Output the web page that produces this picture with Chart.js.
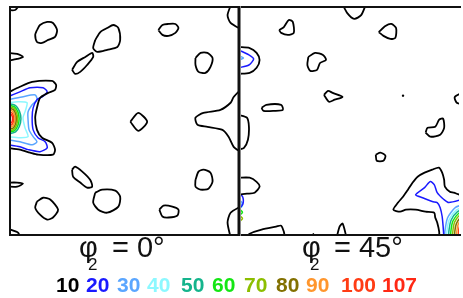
<!DOCTYPE html>
<html lang="en">
<head>
<meta charset="UTF-8">
<title>ODF sections</title>
<script src="https://cdn.jsdelivr.net/npm/chart.js"></script>
<style>
  body { margin: 0; background: #fff; font-family: Arial, "Liberation Sans", sans-serif; }
  #wrap { position: relative; width: 463px; height: 298px; overflow: hidden; }
  canvas { position: absolute; top: 0; }
  #c0 { left: 0; }
  #c45 { left: 237px; }
  .t { position: absolute; line-height: 1; color: #111; white-space: nowrap; }
  .big { font-size: 29px; }
  .sub { font-size: 17px; }
  .lv { position: absolute; top: 274px; font-size: 21px; font-weight: bold; line-height: 1; }
</style>
</head>
<body>
<div id="wrap">
  <canvas id="c0" width="241" height="240"></canvas>
  <canvas id="c45" width="226" height="240"></canvas>
  <div id="labels"></div>
</div>

<script>
// contour levels and the two phi2 sections
const levels = [10, 20, 30, 40, 50, 60, 70, 80, 90, 100, 107];
const sections = ['0', '45'];

// contour lines, [phi1, Phi] in degrees (Phi grows downwards)
// ---- phi2 = 0 ----
const s0_10 = [
  [[10.6,9.1],[11.8,7.1],[14.6,5.9],[16.9,6.3],[18.5,9.1],[17.7,11.8],[15,13],[12.6,14.2],[10.6,13.8],[9.9,11],[10.6,9.1]],
  [[33.5,13],[35.5,9.9],[38.2,8.3],[40.6,7.1],[42.6,8.3],[43.3,13],[42.2,15.8],[38.2,16.9],[34.3,17.7],[32.7,16.2],[33.5,13]],
  [[24.4,24.8],[26.4,21.7],[29.6,19.7],[32.3,18.1],[32.7,19.7],[30.3,22.9],[27.6,25.6],[25.6,26.4],[24.4,24.8]],
  [[58.3,9.1],[59.9,7.1],[62.3,6.7],[65,6.7],[66.2,8.3],[65,10.2],[62.3,11.4],[59.9,11],[58.3,9.1]],
  [[72.9,20.1],[74.9,18.1],[77.6,18.1],[79.6,20.1],[78.8,23.6],[76.8,26],[74.1,25.6],[72.9,22.9],[72.9,20.1]],
  [[86.9,-1],[85.5,3.2],[86.7,6.3],[91,8.9]],
  [[-1,18.1],[2.8,18.5],[5.1,19.7],[2.8,20.5],[-1,21.3]],
  [[-1,33.9],[3.9,31.5],[8.7,29.6],[16.5,29.2],[18.1,30.7],[17.7,32.7],[15,33.9],[11.8,35.9],[10.6,39.8],[9.9,43.7],[10.6,48.5],[12.6,51.6],[16.5,53.6],[17.7,56.3],[16.9,58.3],[11,58.3],[7.9,57.5],[3.9,56.3],[-1,55.6]],
  [[-1,69.3],[2.8,69.3],[5.1,69.7],[2.8,70.9],[-1,70.9]],
  [[24.4,64.2],[25.6,63],[28.4,65],[31.5,68.2],[32.3,70.9],[30.3,71.3],[27.6,69.3],[24.8,67],[24.4,64.2]],
  [[33.5,73.3],[36.2,72.1],[41.4,72.5],[43.3,74.9],[42.6,78.8],[38.2,81.2],[34.7,80],[32.7,77.2],[33.5,73.3]],
  [[10.6,76.8],[13,75.3],[15.8,76],[18.9,80],[16.9,83.1],[14.6,83.9],[11.8,82],[9.9,79.2],[10.6,76.8]],
  [[58.7,80],[60.3,78.4],[63.8,78.8],[66.2,80],[65.8,82.3],[62.3,83.1],[59.9,82.7],[58.7,80]],
  [[72.9,68.2],[74.1,65],[76,64.2],[78.8,65.4],[79.6,68.9],[78,71.7],[74.9,72.1],[72.9,70.9],[72.9,68.2]],
  [[91,78.5],[86.7,81.2],[85.5,85.1],[86.7,91]],
  [[-1,87.5],[3.2,89.1],[3.9,91]],
  [[-1,1.2],[2,1.2],[3.9,-1]],
  [[47.3,45.3],[50.4,41.8],[53.9,45.3],[50.4,48.9],[47.3,45.3]],
  [[91,32.3],[87.9,35.5],[86.7,37.8],[82.7,40.6],[76,41.8],[72.9,43.7],[73.7,46.5],[77.6,47.3],[83.5,48.5],[85.9,51.2],[87.9,55.2],[91,57.5]]
];
const s0_20 = [[[-1,35.5],[3.9,33.5],[7.9,31.9],[13,31.9],[14.6,33.5],[12.6,35.5],[10.6,36.6],[9.1,39.8],[8.7,43.7],[9.1,48.5],[11,51.6],[13.8,53.2],[14.6,55.6],[11.8,57.1],[7.1,56.3],[3.9,55.2],[-1,54.4]]];
const s0_30 = [[[-1,36.6],[4.7,35.5],[9.9,34.7],[10.6,36.6],[8.7,38.6],[7.1,41.4],[7.1,44.5],[7.5,48.5],[9.1,51.2],[10.6,53.2],[8.7,54.4],[3.9,53.2],[-1,52.4]]];
const s0_40 = [[[-1,37.8],[3.2,37.4],[6.7,37.8],[5.9,41.4],[5.1,43.7],[5.9,47.7],[7.1,51.2],[3.9,51.6],[-1,51.2]]];
const s0_50 = [[[-0.5,38.1],[2.2,38.9],[3.7,41.1],[4.3,44.1],[3.7,47.1],[2.2,49.3],[-0.5,50.1]]];
const s0_60 = [[[-0.5,38.7],[1.8,39.4],[3.1,41.4],[3.6,44.1],[3.1,46.8],[1.8,48.8],[-0.5,49.5]]];
const s0_70 = [[[-0.5,39.3],[1.5,39.9],[2.6,41.7],[3,44.1],[2.6,46.5],[1.5,48.3],[-0.5,48.9]]];
const s0_80 = [[[-0.5,39.9],[1.25,40.4],[2.2,42],[2.5,44.1],[2.2,46.2],[1.25,47.8],[-0.5,48.3]]];
const s0_90 = [[[-0.5,40.6],[1,41.1],[1.7,42.4],[2,44.1],[1.7,45.8],[1,47.1],[-0.5,47.6]]];
const s0_100 = [[[-0.5,41.4],[0.75,41.8],[1.3,42.8],[1.5,44.1],[1.3,45.4],[0.75,46.4],[-0.5,46.8]]];
const s0_107 = [[[-0.5,42.3],[0.5,42.5],[0.9,43.2],[1,44.1],[0.9,45],[0.5,45.7],[-0.5,45.9]]];

// ---- phi2 = 45 ----
const s45_10 = [
  [[41,-1],[42.9,2.4],[45.7,4.7],[48.5,3.2],[50.4,-1]],
  [[15.4,9.1],[17.3,7.9],[19.3,5.1],[20.9,5.9],[21.3,10.2],[18.9,11],[16.2,10.2],[15.4,9.1]],
  [[55.6,9.9],[58.3,7.5],[60.7,6.7],[62.6,8.3],[62.3,12.2],[60.3,12.6],[57.5,11.4],[55.6,9.9]],
  [[27.2,19.7],[29.9,18.1],[33.1,18.9],[34.3,20.9],[31.9,22.1],[30.7,24.8],[28,25.2],[26.8,22.9],[27.2,19.7]],
  [[-1,15.8],[3.5,16.2],[6.3,18.1],[7.5,20.9],[6.3,24],[3.5,26],[-1,26.4]],
  [[33.5,34.7],[35.1,33.1],[37,33.9],[41,35.5],[37.8,36.6],[35.5,37.4],[33.5,34.7]],
  [[90,33.5],[86.3,35.5],[87.1,37.8],[90,38.6]],
  [[8.3,39.8],[10.2,38.6],[16.2,38.6],[16.9,40.6],[13.4,41],[9.1,41],[8.3,39.8]],
  [[-1,42.6],[2.4,43.7],[3.2,47.3],[2.8,52.4],[1.2,55.6],[-1,56.3]],
  [[74.5,49.6],[75.3,47.7],[78.4,47.3],[80,44.5],[81.6,44.1],[82,47.7],[80.4,50.4],[76.4,51.2],[74.5,49.6]],
  [[54.4,58.3],[56.3,57.5],[58.3,58.7],[57.5,60.7],[54.8,60.7],[54.4,58.3]],
  [[-1,67.4],[3.5,67.4],[6.3,69],[7.5,70.9],[5.5,73.3],[2.4,73.7],[-1,74.1]],
  [[1.6,91],[3.5,89.5],[8.3,87.9],[14.2,86.7],[16.2,86.3],[17.3,88.7],[17.7,91]],
  [[38.6,91],[39.8,86.7],[41,85.5],[42.6,91]],
  [[28.8,91],[29.2,89.6],[29.6,91]],
  [[80,91],[80,88.7],[79.2,85.1],[78.4,83.1],[78,81.2],[74.5,80.8],[70.5,80],[66.6,80],[64.2,80.8],[61.5,80],[63.4,77.2],[65.4,74.9],[67.4,72.1],[69.3,69.3],[71.3,67],[74.1,65.4],[77.2,64.2],[79.9,63.4],[81.2,65.4],[82,68.2],[82.3,70.9],[84.3,72.9],[85.9,73.3],[88.3,74.1],[91,74.5]]
];
const s45_10dots = [[65.4,35]];
const s45_20 = [
  [[-1,16.9],[3.2,18.9],[5.1,20.5],[3.2,22.9],[-1,24]],
  [[91,75.5],[83.9,77.2],[81.9,76],[79.2,73.3],[78,70.1],[76.4,68.9],[74.1,71.3],[70.5,74.1],[73.3,75.3],[77.2,76.8],[79.2,77.2],[80.4,79.2],[81.2,82.7],[81.6,86.7],[81.9,91]],
  [[-1,73],[0.7,75],[0.7,78],[-1,80]]
];
const s45_30 = [
  [[-0.5,19.5],[1,20.1],[-0.5,20.8]],
  [[82.3,92],[82.3,88.7],[83.4,83.2],[86.6,79.1],[91,77.7]],
  [[-1,76],[0.6,77.5],[-1,79]]
];
const s45_40 = [[[83.1,92],[83.1,88.7],[84.1,83.8],[87,80.1],[91,78.8]], [[-1,77],[0.6,78.5],[-1,80]]];
const s45_50 = [[[83.9,92],[83.9,88.7],[84.8,84.2],[87.4,80.8],[91,79.6]]];
const s45_60 = [[[84.7,92],[84.7,88.7],[85.5,84.6],[87.8,81.5],[91,80.4]], [[-1,79.5],[0.6,81],[-1,82.5]]];
const s45_70 = [[[85.5,92],[85.5,88.7],[86.2,85],[88.2,82.2],[91,81.2]], [[-1,82],[0.6,83.5],[-1,85]]];
const s45_80 = [[[86.3,92],[86.3,88.7],[86.9,85.6],[88.6,83.2],[91,82.4]]];
const s45_90 = [[[87.1,92],[87.1,88.7],[87.6,86],[89,83.9],[91,83.2]]];
const s45_100 = [[[87.8,92],[87.8,88.7],[88.2,86.6],[89.4,85],[91,84.4]]];
const s45_107 = [[[88.6,92],[88.6,88.7],[88.9,87.1],[89.8,85.9],[91,85.5]]];

const levelColors = ['#000000', '#1a1aff', '#5aa6ff', '#8cf8ff', '#14b48c', '#14e614', '#8cbe00', '#827000', '#ff962d', '#ff3c14', '#ff2814'];

const sec0 = [s0_10, s0_20, s0_30, s0_40, s0_50, s0_60, s0_70, s0_80, s0_90, s0_100, s0_107];
const sec45 = [s45_10, s45_20, s45_30, s45_40, s45_50, s45_60, s45_70, s45_80, s45_90, s45_100, s45_107];

function buildDatasets(lines, dots) {
  const ds = [];
  lines.forEach((group, i) => {
    group.forEach(line => {
      ds.push({
        data: line.map(p => ({ x: p[0], y: p[1] })),
        showLine: true,
        borderColor: levelColors[i],
        borderWidth: i === 0 ? 1.8 : 1.5,
        pointRadius: 0,
        tension: 0.25
      });
    });
  });
  if (dots) {
    ds.push({
      data: dots.map(p => ({ x: p[0], y: p[1] })),
      showLine: false,
      pointRadius: 1.2,
      pointBorderWidth: 0,
      backgroundColor: levelColors[0]
    });
  }
  return ds;
}

// box round the plot area; the right section only gets top and bottom,
// the shared middle edge is drawn a little heavier by the left section
const framePlugin = {
  id: 'frame',
  afterDatasetsDraw(chart, args, opts) {
    const { ctx, chartArea: a } = chart;
    ctx.save();
    ctx.strokeStyle = '#111';
    ctx.lineWidth = 2;
    ctx.beginPath();
    if (opts.open) {
      ctx.moveTo(a.left, a.top);
      ctx.lineTo(a.right + 2, a.top);
      ctx.moveTo(a.left, a.bottom);
      ctx.lineTo(a.right + 2, a.bottom);
    } else {
      ctx.rect(a.left, a.top, a.right - a.left, a.bottom - a.top);
    }
    ctx.stroke();
    if (!opts.open) {
      ctx.lineWidth = 3;
      ctx.beginPath();
      ctx.moveTo(a.right, a.top - 1);
      ctx.lineTo(a.right, a.bottom + 1);
      ctx.stroke();
    }
    ctx.restore();
  }
};

function makeChart(id, lines, dots, xMax, pad, open) {
  return new Chart(document.getElementById(id), {
    type: 'scatter',
    data: { datasets: buildDatasets(lines, dots) },
    options: {
      responsive: false,
      animation: false,
      events: [],
      layout: { padding: pad },
      scales: {
        x: { type: 'linear', min: 0, max: xMax, display: false },
        y: { type: 'linear', min: 0, max: 90, reverse: true, display: false }
      },
      plugins: {
        legend: { display: false },
        tooltip: { enabled: false },
        frame: { open: open }
      }
    },
    plugins: [framePlugin]
  });
}

makeChart('c45', sec45, s45_10dots, 88, { left: 2, right: 0, top: 7, bottom: 5 }, true);
makeChart('c0', sec0, null, 90, { left: 10, right: 2, top: 7, bottom: 5 }, false);

// section labels and level key
const labelPos = [{ phi: 79, sub: 88, rest: 112 }, { phi: 302, sub: 310, rest: 334 }];
const levelX = [56, 86, 117, 147, 181, 212, 244, 276, 306, 341, 382];
const box = document.getElementById('labels');
let html = '';
sections.forEach((s, i) => {
  const p = labelPos[i];
  html += '<span class="t big" style="left:' + p.phi + 'px;top:233px">φ</span>';
  html += '<span class="t sub" style="left:' + p.sub + 'px;top:256px">2</span>';
  html += '<span class="t big" style="left:' + p.rest + 'px;top:233px">= ' + s + '°</span>';
});
levels.forEach((v, i) => {
  html += '<span class="lv" style="left:' + levelX[i] + 'px;color:' + levelColors[i] + '">' + v + '</span>';
});
box.innerHTML = html;
</script>
</body>
</html>
